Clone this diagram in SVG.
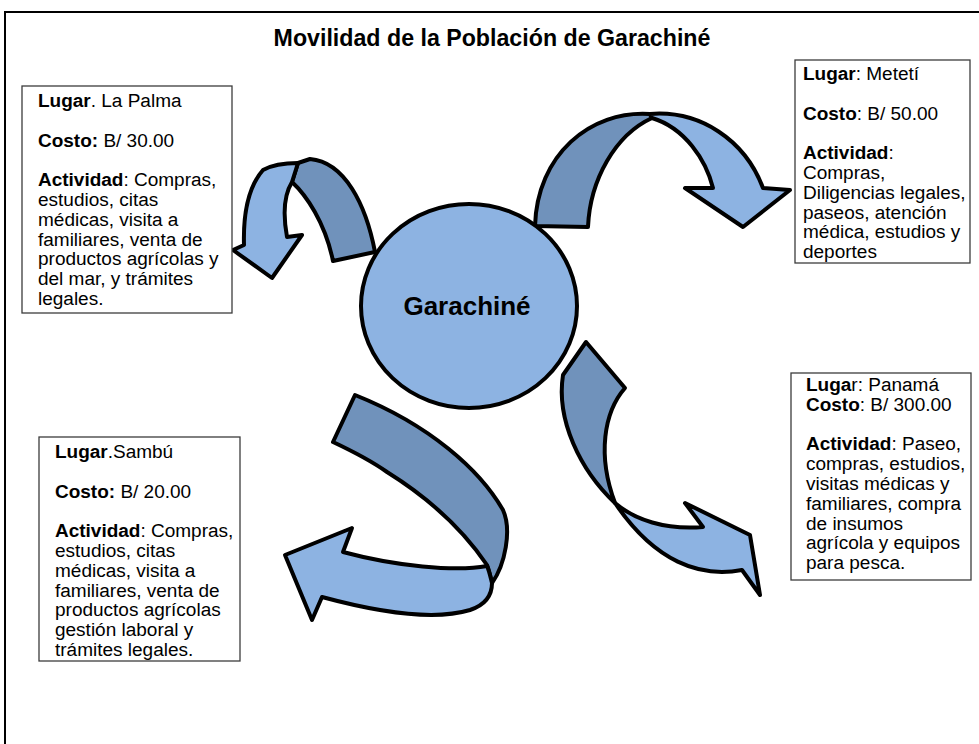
<svg xmlns="http://www.w3.org/2000/svg" width="979" height="744" viewBox="0 0 979 744">
<style>
.frame{fill:none;stroke:#000;stroke-width:2}
.box{fill:#fff;stroke:#3c3c3c;stroke-width:1.3}
.t{font-family:"Liberation Sans",Arial,sans-serif;font-size:17.6px;fill:#000}
.b{font-weight:bold}
.title{font-family:"Liberation Sans",Arial,sans-serif;font-size:23.2px;font-weight:bold;fill:#000}
.lt{fill:#8db3e2;stroke:#000;stroke-width:4;stroke-linejoin:round}
.dk{fill:#7092bb;stroke:#000;stroke-width:4;stroke-linejoin:round}
.hub{fill:#8db3e2;stroke:#000;stroke-width:4}
.hubt{font-family:"Liberation Sans",Arial,sans-serif;font-size:26px;font-weight:bold;fill:#000}
</style>
<rect width="979" height="744" fill="#fff"/>
<rect class="frame" x="5" y="12" width="990" height="760"/>
<text class="title" x="492" y="46" text-anchor="middle">Movilidad de la Población de Garachiné</text>

<g id="connectors">
  <g id="arrow-lapalma">
    <path class="dk" d="M333,261 L375,252 C366,205 345,162 310,159 L298,163 L292,182 C306,195 325,222 333,261 Z"/>
    <path class="lt" d="M298,163 C285,163 272,165 263,170 C250,185 243,210 244,245 L233,250 L272,278 L302,235 L287,237 C283,215 284,195 292,182 Z"/>
  </g>
  <g id="arrow-meteti">
    <path class="dk" d="M535,226 C537,155 590,110 650,114 L652,118 C615,135 590,180 588,227 Z"/>
    <path class="lt" d="M650,114 C700,110 745,140 763,188 L790,190 L743,227 L685,188 L713,188 C706,160 685,128 652,118 Z"/>
  </g>
  <g id="arrow-panama">
    <path class="dk" d="M586,342 L625,388 C604,412 597,455 615,503 C580,470 556,420 563,375 Z"/>
    <path class="lt" d="M615,503 C635,520 665,530 703,527 L685,503 L750,535 L760,595 L742,570 C700,578 655,562 615,503 Z"/>
  </g>
  <g id="arrow-sambu">
    <path class="dk" d="M355,395 C430,425 480,470 503,510 C512,530 505,565 492,583 C490,575 489,570 487,565 C470,540 440,505 387,472 C370,460 350,450 333,442 Z"/>
    <path class="lt" d="M487,566 C455,572 395,566 343,552 L352,528 L285,555 L312,620 L322,597 C370,610 430,622 470,610 C485,605 492,595 492,583 C490,575 489,570 487,566 Z"/>
  </g>
</g>

<g id="garachine">
  <ellipse class="hub" cx="469" cy="306" rx="108" ry="102"/>
  <text class="hubt" x="467" y="315" text-anchor="middle">Garachiné</text>
</g>

<g id="box-lapalma">
  <rect class="box" x="22" y="86" width="210" height="227"/>
  <g transform="translate(38,0) scale(1.08,1)">
  <text class="t" x="0" y="107"><tspan class="b">Lugar</tspan>. La Palma</text>
  <text class="t" x="0" y="146.6"><tspan class="b">Costo:</tspan> B/ 30.00</text>
  <text class="t" x="0" y="186.2"><tspan class="b">Actividad</tspan>: Compras,</text>
  <text class="t" x="0" y="206">estudios, citas</text>
  <text class="t" x="0" y="225.8">médicas, visita a</text>
  <text class="t" x="0" y="245.6">familiares, venta de</text>
  <text class="t" x="0" y="265.4">productos agrícolas y</text>
  <text class="t" x="0" y="285.2">del mar, y trámites</text>
  <text class="t" x="0" y="305">legales.</text>
  </g>
</g>

<g id="box-meteti">
  <rect class="box" x="795" y="60" width="175" height="203"/>
  <g transform="translate(803,0) scale(1.08,1)">
  <text class="t" x="0" y="80"><tspan class="b">Lugar</tspan>: Metetí</text>
  <text class="t" x="0" y="119.6"><tspan class="b">Costo</tspan>: B/ 50.00</text>
  <text class="t" x="0" y="159.2"><tspan class="b">Actividad</tspan>:</text>
  <text class="t" x="0" y="179">Compras,</text>
  <text class="t" x="0" y="198.8">Diligencias legales,</text>
  <text class="t" x="0" y="218.6">paseos, atención</text>
  <text class="t" x="0" y="238.4">médica, estudios y</text>
  <text class="t" x="0" y="258.2">deportes</text>
  </g>
</g>

<g id="box-panama">
  <rect class="box" x="791" y="373" width="180" height="207"/>
  <g transform="translate(806,0) scale(1.08,1)">
  <text class="t" x="0" y="391"><tspan class="b">Luga</tspan>r: Panamá</text>
  <text class="t" x="0" y="410.8"><tspan class="b">Costo</tspan>: B/ 300.00</text>
  <text class="t" x="0" y="450.4"><tspan class="b">Actividad</tspan>: Paseo,</text>
  <text class="t" x="0" y="470.2">compras, estudios,</text>
  <text class="t" x="0" y="490">visitas médicas y</text>
  <text class="t" x="0" y="509.8">familiares, compra</text>
  <text class="t" x="0" y="529.6">de insumos</text>
  <text class="t" x="0" y="549.4">agrícola y equipos</text>
  <text class="t" x="0" y="569.2">para pesca.</text>
  </g>
</g>

<g id="box-sambu">
  <rect class="box" x="39" y="437" width="201" height="224"/>
  <g transform="translate(55,0) scale(1.08,1)">
  <text class="t" x="0" y="458"><tspan class="b">Lugar</tspan>.Sambú</text>
  <text class="t" x="0" y="497.6"><tspan class="b">Costo:</tspan> B/ 20.00</text>
  <text class="t" x="0" y="537.2"><tspan class="b">Actividad</tspan>: Compras,</text>
  <text class="t" x="0" y="557">estudios, citas</text>
  <text class="t" x="0" y="576.8">médicas, visita a</text>
  <text class="t" x="0" y="596.6">familiares, venta de</text>
  <text class="t" x="0" y="616.4">productos agrícolas</text>
  <text class="t" x="0" y="636.2">gestión laboral y</text>
  <text class="t" x="0" y="656">trámites legales.</text>
  </g>
</g>
</svg>
